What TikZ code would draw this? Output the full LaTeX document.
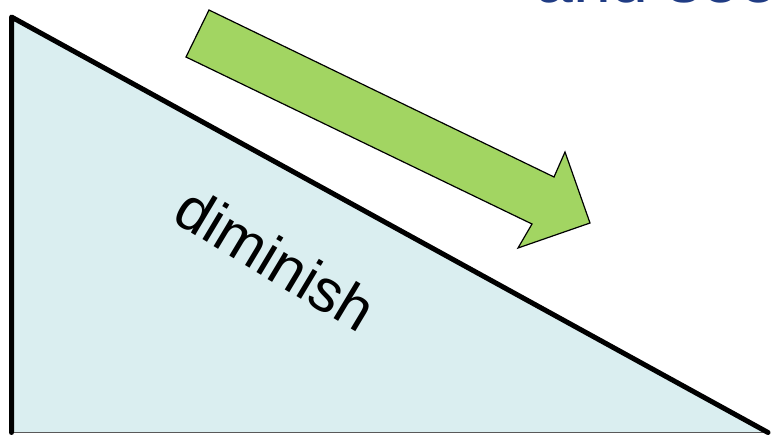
\documentclass[tikz,border=0pt]{standalone}
\usepackage{fontspec}
\setmainfont{Liberation Sans}
\definecolor{rampfill}{HTML}{DAEEF0}
\definecolor{arrowgreen}{HTML}{A2D562}
\definecolor{titleblue}{HTML}{203C84}
\begin{document}
\begin{tikzpicture}[x=1pt,y=-1pt,
  ramp/.style={draw=black,line width=5pt,line join=round,line cap=round},
  slidearrow/.style={fill=arrowgreen,draw=black,line width=1.2pt,line join=miter}]
\useasboundingbox (0,0) rectangle (773,434);
\clip (0,0) rectangle (773,434);
\fill[white] (0,0) rectangle (773,434);
% ramp triangle
\coordinate (tl) at (11.5,17);
\coordinate (bl) at (11.5,432.5);
\coordinate (br) at (768,432.5);
\fill[rampfill] (tl) -- (bl) -- (br) -- cycle;
\draw[gray!70!black,line width=1pt] (bl) -- (br);
\draw[ramp] (bl) -- (tl) -- (br);
% green arrow
\draw[slidearrow] (209,10) -- (554,177) -- (565,152) -- (590,223)
  -- (518,248) -- (532,224) -- (186,57) -- cycle;
% text
\node[rotate=-31,font=\fontsize{60}{64}\selectfont] (dim) at (276,259) {diminish};
\node[anchor=base west,text=titleblue,font=\fontsize{68}{72}\selectfont,inner sep=0pt] (title) at (535,2) {and see};
\end{tikzpicture}
\end{document}
